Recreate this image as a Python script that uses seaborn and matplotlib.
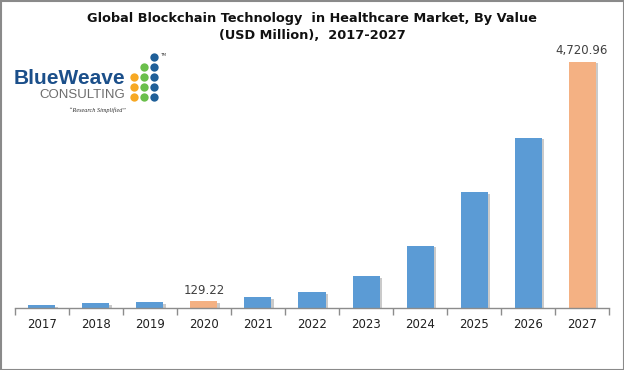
import matplotlib
matplotlib.use("Agg")
import matplotlib.pyplot as plt
import matplotlib.patheffects as pe
from matplotlib.patches import Rectangle
import seaborn as sns
import numpy as np

# data
years = ["2017", "2018", "2019", "2020", "2021", "2022", "2023", "2024", "2025", "2026", "2027"]
values = [50, 88, 107, 129.22, 203, 299, 605, 1192, 2213, 3260, 4720.96]
labelled = {"2020": "129.22", "2027": "4,720.96"}

blue = "#5B9BD5"
orange = "#F4B183"
colors = [orange if y in labelled else blue for y in years]

sns.set_theme(style="white")
plt.rcParams["font.family"] = ["DejaVu Sans"]

fig = plt.figure(figsize=(6.24, 3.70), dpi=100)
ax = fig.add_axes([0.024, 0.1676, 0.952, 0.7054])

sns.barplot(x=years, y=values, hue=years, palette=colors, legend=False,
            width=0.5, saturation=1, linewidth=0, ax=ax)

# small drop shadow like the Excel original
for bar in ax.patches:
    bar.set_path_effects([pe.SimplePatchShadow(offset=(2, -1), shadow_rgbFace="#8a8a8a", alpha=0.45),
                          pe.Normal()])

for i, y in enumerate(years):
    if y in labelled:
        ax.text(i, values[i] + 90, labelled[y], ha="center", va="bottom",
                fontsize=8.5, color="#404040")

ax.set_xlim(-0.5, len(years) - 0.5)
ax.set_ylim(0, 5000)
ax.set_yticks([])
ax.set_xlabel("")
ax.set_ylabel("")
for s in ["top", "right", "left"]:
    ax.spines[s].set_visible(False)
ax.spines["bottom"].set_color("#8c8c8c")
ax.spines["bottom"].set_linewidth(1)
ax.set_xticks(np.arange(-0.5, len(years)), minor=True)
ax.tick_params(axis="x", which="minor", length=5, color="#8c8c8c", direction="out", bottom=True)
ax.tick_params(axis="x", which="major", length=0, labelsize=8.5, labelcolor="#202020", pad=7)

fig.text(0.5, 0.951, "Global Blockchain Technology  in Healthcare Market, By Value",
         ha="center", va="center", fontsize=9.3, fontweight="bold", color="#111111")
fig.text(0.5, 0.905, "(USD Million),  2017-2027",
         ha="center", va="center", fontsize=9.3, fontweight="bold", color="#111111")

# logo, drawn on an overlay in pixel coordinates
lax = fig.add_axes([0, 0, 1, 1])
lax.set_xlim(0, 624)
lax.set_ylim(370, 0)
lax.axis("off")
lax.text(14, 78, "BlueWeave", ha="left", va="center", fontsize=15, fontweight="bold",
         color="#1B4F8A", family=["Liberation Sans", "DejaVu Sans"])
lax.text(125, 95, "CONSULTING", ha="right", va="center", fontsize=9.5,
         color="#6d6d6d", family=["Liberation Sans", "DejaVu Sans"])
lax.text(97, 110, "\u201cResearch Simplified\u201d", ha="center", va="center",
         fontsize=4.5, style="italic", color="#333333", family=["Liberation Serif", "DejaVu Serif"])
dot_x = [134, 144, 154]
dot_rows = [(57, [None, None, "#1F5F99"]),
            (67, [None, "#6ABF4B", "#1F5F99"]),
            (77, ["#F7A823", "#6ABF4B", "#1F5F99"]),
            (87, ["#F7A823", "#6ABF4B", "#1F5F99"]),
            (97, ["#F7A823", "#6ABF4B", "#1F5F99"])]
for yy, cols in dot_rows:
    for xx, c in zip(dot_x, cols):
        if c:
            lax.scatter(xx, yy, s=36, color=c, linewidths=0)
lax.text(160, 55, "TM", fontsize=3, color="#333333", ha="left", va="center")

# outer frame
lax.add_patch(Rectangle((0.5, 0.5), 623, 369, fill=False, edgecolor="#8a8a8a", linewidth=1.5))

fig.savefig("out.png", dpi=100)
